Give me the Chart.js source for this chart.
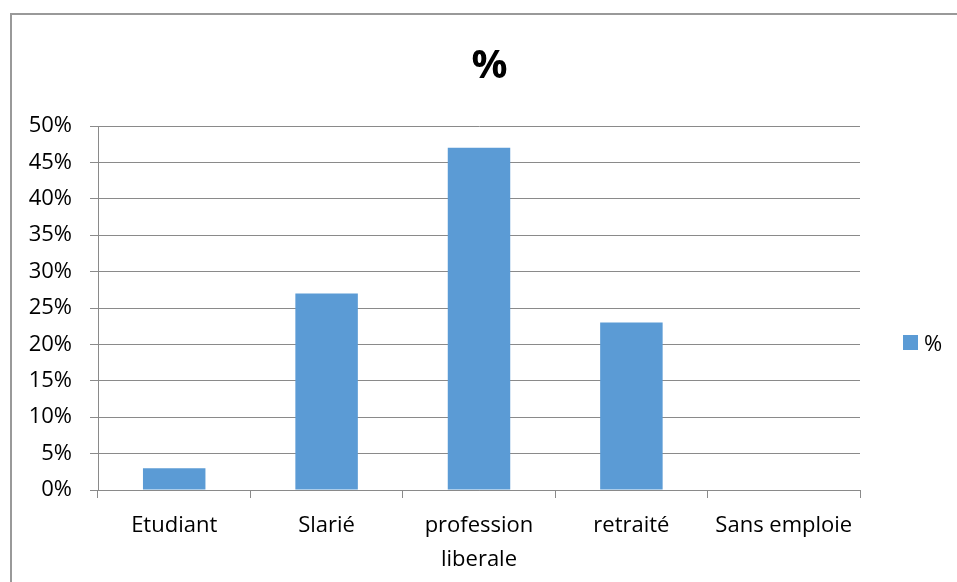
<!DOCTYPE html>
<html>
<head>
<meta charset="utf-8">
<script src="https://cdn.jsdelivr.net/npm/chart.js@4"></script>
<style>
  html, body { margin: 0; padding: 0; background: #fff; overflow: hidden; }
  #frame { position: absolute; left: 10px; top: 13px; width: 1000px; height: 1000px; border: 2px solid #999; box-sizing: border-box; }
  #chart { position: absolute; left: 0; top: 0; }
  #legend { position: absolute; left: 903px; top: 327px; font: 22px "Open Sans", sans-serif; color: #000; }
  #legend .item { display: flex; align-items: center; height: 30px; }
  #legend .box { width: 15px; height: 15px; margin-right: 6px; }
</style>
</head>
<body>
<div id="frame"></div>
<canvas id="chart" width="957" height="582"></canvas>
<div id="legend"></div>
<script>
const categories = ['Etudiant', 'Slarié', ['profession', 'liberale'], 'retraité', 'Sans emploie'];
const seriesName = '%';
const values = [3, 27, 47, 23, 0];
const yTicks = [0, 5, 10, 15, 20, 25, 30, 35, 40, 45, 50];

const gridColor = '#8a8a8a';
const font = { family: '"Open Sans", sans-serif', size: 22 };

const chart = new Chart(document.getElementById('chart'), {
  type: 'bar',
  data: {
    labels: categories,
    datasets: [{
      label: seriesName,
      data: values,
      backgroundColor: '#5b9bd5',
      barPercentage: 0.41,
      categoryPercentage: 1
    }]
  },
  options: {
    responsive: false,
    animation: false,
    layout: { padding: { left: 22, right: 0, top: 0, bottom: 0 } },
    plugins: {
      legend: { display: false },
      tooltip: { enabled: false },
      title: {
        display: true,
        text: '%',
        color: '#000',
        font: { family: font.family, size: 40, weight: 'bold' },
        padding: { top: 43, bottom: 35 }
      }
    },
    scales: {
      x: {
        grid: { offset: true, drawOnChartArea: false, drawTicks: true, tickLength: 8, color: gridColor },
        border: { display: true, color: gridColor },
        ticks: { color: '#000', font: { ...font, lineHeight: 34 / 22 }, padding: 11, maxRotation: 0, autoSkip: false },
        afterFit: s => { s.height = 92; }
      },
      y: {
        min: 0,
        max: 50,
        afterBuildTicks: s => { s.ticks = yTicks.map(v => ({ value: v })); },
        grid: { color: gridColor, drawTicks: true, tickLength: 8 },
        border: { display: true, color: gridColor },
        ticks: { color: '#000', font: font, padding: 18, callback: v => v + '%' },
        afterFit: s => { s.width = 76; }
      },
      // empty right-hand axis, keeps room for the legend
      side: {
        position: 'right',
        grid: { display: false },
        border: { display: false },
        ticks: { display: false },
        afterFit: s => { s.width = 97; }
      }
    }
  }
});

// legend built from the dataset
const legend = document.getElementById('legend');
chart.data.datasets.forEach(ds => {
  const item = document.createElement('div');
  item.className = 'item';
  const box = document.createElement('span');
  box.className = 'box';
  box.style.background = ds.backgroundColor;
  item.appendChild(box);
  item.appendChild(document.createTextNode(ds.label));
  legend.appendChild(item);
});
</script>
</body>
</html>
